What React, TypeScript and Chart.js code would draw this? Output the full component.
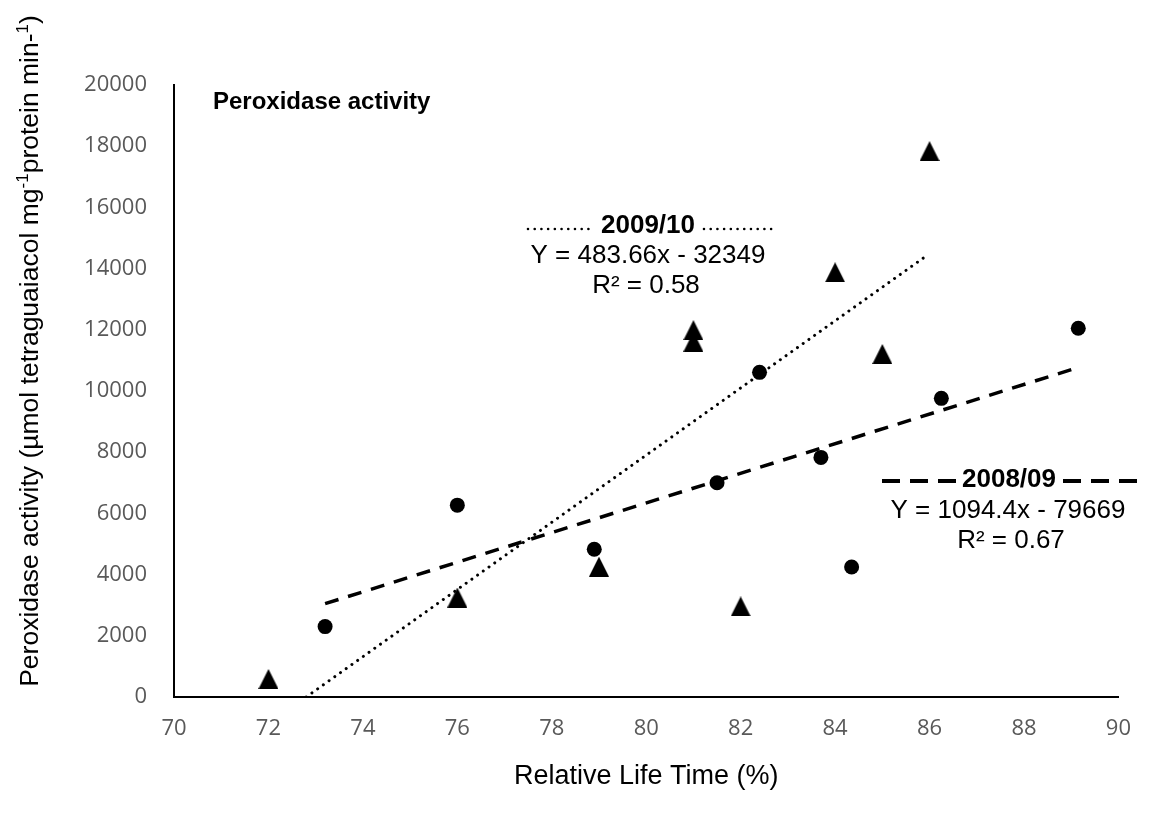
import React, { useEffect, useRef } from "react";
import { Chart, registerables } from "chart.js";

Chart.register(...registerables);

// 2008/09 (circles)
const circleX = [73.2, 76.0, 78.9, 81.5, 82.4, 83.7, 84.35, 86.25, 89.15];
const circleY = [2300, 6270, 4830, 7000, 10610, 7830, 4250, 9760, 12050];
// 2009/10 (triangles)
const triX = [72, 76, 79, 81, 81, 82, 84, 85, 86];
const triY = [590, 3250, 4260, 11990, 11610, 2960, 13880, 11210, 17840];
// trend line end points
const dashedTrendX = [73.2, 89.15];
const dashedTrendY = [3050, 10770];
const dottedTrendX = [72.8, 85.9];
const dottedTrendY = [0, 14380];

const xTicks = { min: 70, max: 90, step: 2 };
const yTicks = { min: 0, max: 20000, step: 2000 };

const chartTitle = "Peroxidase activity";
const xTitle = "Relative Life Time (%)";
const yTitleParts: [string, boolean][] = [
  ["Peroxidase activity (µmol tetraguaiacol mg", false],
  ["-1", true],
  ["protein min-", false],
  ["1", true],
  [")", false],
];
const label0910 = ["2009/10", "Y = 483.66x - 32349", "R² = 0.58"];
const label0809 = ["2008/09", "Y = 1094.4x - 79669", "R² = 0.67"];

const SANS = "'Liberation Sans', Arial, sans-serif";
const TICKFONT = "'Open Sans', sans-serif";

function pts(xs: number[], ys: number[]) {
  return xs.map((x, i) => ({ x, y: ys[i] }));
}

function makeTriangle(): HTMLCanvasElement {
  const c = document.createElement("canvas");
  c.width = 20;
  c.height = 20;
  const g = c.getContext("2d")!;
  g.fillStyle = "#000";
  g.beginPath();
  g.moveTo(10, 0);
  g.lineTo(20, 20);
  g.lineTo(0, 20);
  g.closePath();
  g.fill();
  return c;
}

function text(ctx: CanvasRenderingContext2D, t: string, x: number, y: number, font: string, align: CanvasTextAlign) {
  ctx.save();
  ctx.font = font;
  ctx.textAlign = align;
  ctx.textBaseline = "middle";
  ctx.fillStyle = "#000";
  ctx.fillText(t, x, y);
  ctx.restore();
}

const annotationPlugin = {
  id: "annotations",
  afterDraw(chart: any) {
    const ctx: CanvasRenderingContext2D = chart.ctx;
    text(ctx, chartTitle, 213, 102, `bold 24px ${SANS}`, "left");

    // 2009/10 label
    ctx.save();
    ctx.strokeStyle = "#000";
    ctx.lineWidth = 2.6;
    ctx.lineCap = "round";
    ctx.setLineDash([0.01, 6.7]);
    ctx.beginPath();
    ctx.moveTo(528, 229);
    ctx.lineTo(593, 229);
    ctx.moveTo(704, 229);
    ctx.lineTo(777, 229);
    ctx.stroke();
    ctx.restore();
    text(ctx, label0910[0], 648, 226, `bold 26px ${SANS}`, "center");
    text(ctx, label0910[1], 648, 256, `26px ${SANS}`, "center");
    text(ctx, label0910[2], 646, 286, `26px ${SANS}`, "center");

    // 2008/09 label
    ctx.save();
    ctx.strokeStyle = "#000";
    ctx.lineWidth = 4;
    ctx.lineCap = "butt";
    ctx.setLineDash([18, 10]);
    ctx.beginPath();
    ctx.moveTo(882, 481);
    ctx.lineTo(956, 481);
    ctx.moveTo(1063, 481);
    ctx.lineTo(1140, 481);
    ctx.stroke();
    ctx.restore();
    text(ctx, label0809[0], 1009, 480, `bold 26px ${SANS}`, "center");
    text(ctx, label0809[1], 1008, 511, `26px ${SANS}`, "center");
    text(ctx, label0809[2], 1011, 541, `26px ${SANS}`, "center");

    // y axis title with superscripts
    ctx.save();
    const big = `26.5px ${SANS}`;
    const small = `17px ${SANS}`;
    let total = 0;
    for (const [t, sup] of yTitleParts) {
      ctx.font = sup ? small : big;
      total += ctx.measureText(t).width;
    }
    ctx.translate(38, 351);
    ctx.rotate(-Math.PI / 2);
    ctx.fillStyle = "#000";
    ctx.textBaseline = "alphabetic";
    ctx.textAlign = "left";
    let cx = -total / 2;
    for (const [t, sup] of yTitleParts) {
      ctx.font = sup ? small : big;
      ctx.fillText(t, cx, sup ? -10 : 0);
      cx += ctx.measureText(t).width;
    }
    ctx.restore();
  },
};

export default function App() {
  const ref = useRef<HTMLCanvasElement | null>(null);
  useEffect(() => {
    document.body.style.margin = "0";
    const tri = makeTriangle();
    const chart = new Chart(ref.current!, {
      type: "scatter",
      data: {
        datasets: [
          {
            label: "2008/09 trend",
            data: pts(dashedTrendX, dashedTrendY),
            showLine: true,
            borderColor: "#000",
            borderWidth: 3.5,
            borderDash: [14, 10],
            pointRadius: 0,
            fill: false,
          },
          {
            label: "2009/10 trend",
            data: pts(dottedTrendX, dottedTrendY),
            showLine: true,
            borderColor: "#000",
            borderWidth: 3,
            borderCapStyle: "round",
            borderDash: [0.01, 7],
            pointRadius: 0,
            fill: false,
          },
          {
            label: "2008/09",
            data: pts(circleX, circleY),
            pointStyle: "circle",
            pointRadius: 7.5,
            pointBackgroundColor: "#000",
            pointBorderWidth: 0,
            showLine: false,
          },
          {
            label: "2009/10",
            data: pts(triX, triY),
            pointStyle: tri,
            pointRadius: 10,
            showLine: false,
          },
        ],
      },
      options: {
        animation: false,
        responsive: false,
        maintainAspectRatio: false,
        layout: { padding: { left: 0, right: 21, top: 85, bottom: 0 } },
        plugins: { legend: { display: false }, tooltip: { enabled: false } },
        scales: {
          x: {
            type: "linear",
            min: xTicks.min,
            max: xTicks.max,
            ticks: {
              stepSize: xTicks.step,
              color: "#595959",
              font: { family: TICKFONT, size: 22 },
              padding: 19,
              callback: (v: any) => String(v),
            },
            grid: { display: false, drawTicks: false },
            border: { display: true, color: "#000", width: 2 },
            title: {
              display: true,
              text: xTitle,
              color: "#000",
              font: { family: SANS, size: 27 },
              padding: { top: 0, bottom: 26 },
            },
            afterFit: (s: any) => {
              s.height = 122;
            },
          },
          y: {
            type: "linear",
            min: yTicks.min,
            max: yTicks.max,
            ticks: {
              stepSize: yTicks.step,
              color: "#595959",
              font: { family: TICKFONT, size: 22 },
              padding: 27,
              callback: (v: any) => String(v),
            },
            grid: { display: false, drawTicks: false },
            border: { display: true, color: "#000", width: 2 },
            afterFit: (s: any) => {
              s.width = 174;
            },
          },
        },
      },
      plugins: [annotationPlugin],
    });
    return () => chart.destroy();
  }, []);
  return (
    <div style={{ position: "absolute", left: 0, top: 0, width: 1150, height: 819, background: "#fff" }}>
      <canvas ref={ref} width={1150} height={819} />
    </div>
  );
}
